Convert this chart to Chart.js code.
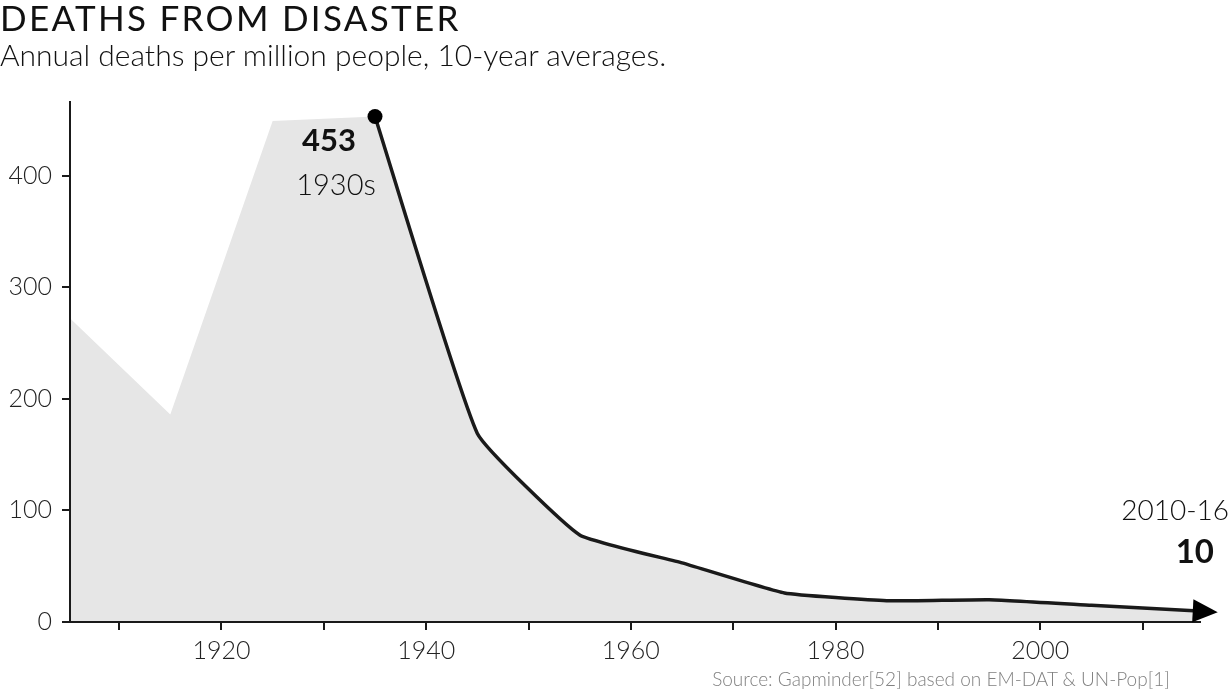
<!DOCTYPE html>
<html>
<head>
<meta charset="utf-8">
<script src="https://cdn.jsdelivr.net/npm/chart.js@4.4.0/dist/chart.umd.min.js"></script>
<style>
  html, body { margin: 0; padding: 0; background: #fff; }
  #wrap { position: relative; width: 1230px; height: 695px; font-family: Lato, "Open Sans", sans-serif; color: #111; }
  #title { position: absolute; left: 0; top: -4px; font-size: 35px; font-weight: 400; letter-spacing: 2.3px; }
  #subtitle { position: absolute; left: 0; top: 36px; font-size: 30px; font-weight: 300; }
  #source { position: absolute; right: 60px; top: 667px; font-size: 19px; font-weight: 300; color: #808080; }
  canvas { position: absolute; left: 0; top: 0; }
</style>
</head>
<body>
<div id="wrap">
  <canvas id="myChart" width="1230" height="695"></canvas>
  <div id="title">DEATHS FROM DISASTER</div>
  <div id="subtitle">Annual deaths per million people, 10-year averages.</div>
  <div id="source">Source: Gapminder[52] based on EM-DAT &amp; UN-Pop[1]</div>
</div>
<script>
// early decades, shown only as grey area
var early_years = [1905, 1915, 1925, 1935];
var early_deaths = [274, 186, 449, 453];

// main black line
var line_years = [1935, 1945, 1955, 1965, 1975, 1985, 1995, 2005, 2015];
var line_deaths = [453, 169, 78, 53, 26, 19, 20, 15, 10];

var x_ticks = [1910, 1920, 1930, 1940, 1950, 1960, 1970, 1980, 1990, 2000, 2010];
var y_ticks = [0, 100, 200, 300, 400];

var grey = '#e6e6e6';
var ink = '#1a1a1a';

function toPoints(xs, ys) {
    var out = [];
    for (var i in xs) out.push({x: xs[i], y: ys[i]});
    return out;
}

var labelsPlugin = {
    id: 'labels',
    afterDatasetsDraw: function(chart) {
        var ctx = chart.ctx;
        var xs = chart.scales.x, ys = chart.scales.y;
        ctx.save();

        // peak label + dot
        var px = xs.getPixelForValue(line_years[0]);
        var py = ys.getPixelForValue(line_deaths[0]);
        ctx.fillStyle = '#000';
        ctx.beginPath();
        ctx.arc(px, py, 7.5, 0, Math.PI * 2);
        ctx.fill();

        ctx.fillStyle = '#111';
        ctx.textAlign = 'center';
        ctx.textBaseline = 'alphabetic';
        ctx.font = 'bold 31px Lato';
        ctx.fillText(String(line_deaths[0]), px - 46, py + 34);
        ctx.font = '300 29px Lato';
        ctx.fillText('1930s', px - 39, py + 78);

        // arrow at the end of the line
        var n = line_years.length - 1;
        var ex = xs.getPixelForValue(line_years[n]);
        var ey = ys.getPixelForValue(line_deaths[n]);
        var bx = xs.getPixelForValue(line_years[n - 1]);
        var by = ys.getPixelForValue(line_deaths[n - 1]);
        var a = Math.atan2(ey - by, ex - bx);
        ctx.translate(ex - 1, ey);
        ctx.rotate(a);
        ctx.beginPath();
        ctx.moveTo(25, 0);
        ctx.lineTo(0, -11.5);
        ctx.lineTo(0, 11.5);
        ctx.closePath();
        ctx.fillStyle = '#000';
        ctx.fill();
        ctx.setTransform(1, 0, 0, 1, 0, 0);

        // last value label
        ctx.fillStyle = '#111';
        ctx.textAlign = 'right';
        ctx.font = '300 28px Lato';
        ctx.fillText('2010-16', 1229, 520);
        ctx.font = 'bold 33px Lato';
        ctx.fillText(String(line_deaths[n]), 1214, 563);
        ctx.restore();
    }
};

var ctx = document.getElementById('myChart');

var chart = new Chart(ctx, {
    type: 'line',
    data: {
        datasets: [
            {
                data: toPoints(early_years, early_deaths),
                fill: 'origin',
                backgroundColor: grey,
                borderWidth: 0,
                pointRadius: 0,
                tension: 0,
                clip: {left: -1, bottom: -1, top: 10, right: 10}
            },
            {
                data: toPoints(line_years, line_deaths),
                fill: 'origin',
                backgroundColor: grey,
                borderColor: ink,
                borderWidth: 3.5,
                pointRadius: 0,
                tension: 0.12,
                clip: {left: -1, bottom: -1, top: 10, right: 10}
            }
        ]
    },
    options: {
        responsive: false,
        animation: false,
        layout: { padding: { left: 0, right: 30, top: 102, bottom: 0 } },
        plugins: { legend: { display: false }, tooltip: { enabled: false } },
        scales: {
            x: {
                type: 'linear',
                min: 1905.2,
                max: 2015.6066,
                afterBuildTicks: function(s) { s.ticks = x_ticks.map(function(v) { return {value: v}; }); },
                afterFit: function(s) { s.height = 73; },
                grid: { drawOnChartArea: false, drawTicks: true, tickLength: 8, color: ink, lineWidth: 2 },
                border: { display: true, color: ink, width: 2 },
                ticks: {
                    padding: 6,
                    color: '#222',
                    font: { family: 'Lato', size: 25, weight: 300 },
                    maxRotation: 0,
                    autoSkip: false,
                    callback: function(v) { return v % 20 === 0 ? String(v) : ''; }
                }
            },
            y: {
                min: 0,
                max: 466,
                afterBuildTicks: function(s) { s.ticks = y_ticks.map(function(v) { return {value: v}; }); },
                afterFit: function(s) { s.width = 70; },
                grid: { drawOnChartArea: false, drawTicks: true, tickLength: 8, color: ink, lineWidth: 2 },
                border: { display: true, color: ink, width: 2 },
                ticks: {
                    padding: 10,
                    color: '#222',
                    font: { family: 'Lato', size: 25, weight: 300 }
                }
            }
        }
    },
    plugins: [labelsPlugin]
});
</script>
</body>
</html>
